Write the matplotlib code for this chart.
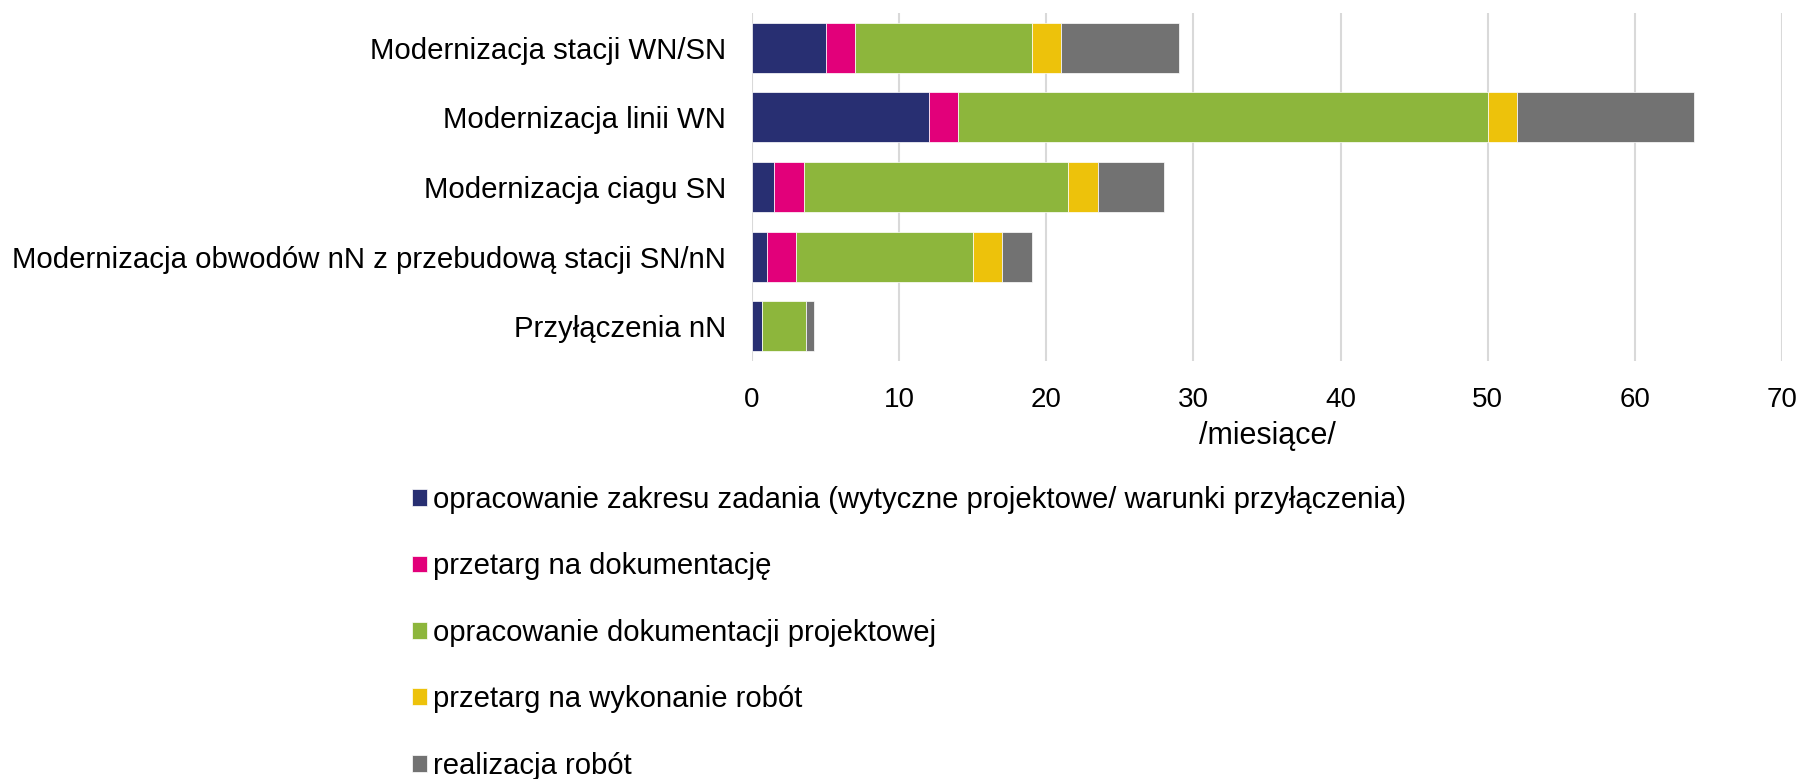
import matplotlib
matplotlib.use("Agg")
import matplotlib.pyplot as plt
import numpy as np

plt.rcParams['font.family'] = ['Liberation Sans', 'DejaVu Sans']

categories = [
    "Modernizacja stacji WN/SN",
    "Modernizacja linii WN",
    "Modernizacja ciagu SN",
    "Modernizacja obwodów nN z przebudową stacji SN/nN",
    "Przyłączenia nN",
]
series_names = [
    "opracowanie zakresu zadania (wytyczne projektowe/ warunki przyłączenia)",
    "przetarg na dokumentację",
    "opracowanie dokumentacji projektowej",
    "przetarg na wykonanie robót",
    "realizacja robót",
]
zakres = [5, 12, 1.5, 1, 0.7]
przetarg_dok = [2, 2, 2, 2, 0]
dokumentacja = [12, 36, 18, 12, 3]
przetarg_rob = [2, 2, 2, 2, 0]
realizacja = [8, 12, 4.5, 2, 0.5]
series = [zakres, przetarg_dok, dokumentacja, przetarg_rob, realizacja]
colors = ["#282F72", "#E2007A", "#8DB63C", "#EDC20B", "#727272"]
xticks = [0, 10, 20, 30, 40, 50, 60, 70]
xlabel = "/miesiące/"

fig = plt.figure(figsize=(17.98, 7.79), dpi=100)
ax = fig.add_axes([752/1798, 1-361/779, (1782-752)/1798, (361-13)/779])

y = np.arange(len(categories))
left = np.zeros(len(categories))
handles = []
for vals, name, c in zip(series, series_names, colors):
    vals = np.array(vals, dtype=float)
    h = ax.barh(y, vals, left=left, height=0.717, color=c, edgecolor='white',
                linewidth=0.5, label=name, zorder=3)
    handles.append(h)
    left += vals

ax.set_ylim(len(categories)-0.5, -0.5)
ax.set_xlim(0, 70)
ax.set_xticks(xticks)
ax.set_yticks(y)
ax.set_yticklabels(categories)
ax.tick_params(axis='both', length=0, colors='black')
ax.tick_params(axis='x', labelsize=20, pad=18.5)
ax.tick_params(axis='y', labelsize=21.2, pad=18.5)
for s in ax.spines.values():
    s.set_visible(False)
ax.grid(axis='x', color='#D9D9D9', linewidth=1.5, zorder=0)
ax.set_axisbelow(True)
ax.set_xlabel(xlabel, fontsize=22, labelpad=6)

leg = fig.legend(handles=handles, labels=series_names, loc='upper left',
                 bbox_to_anchor=(412/1798, 1-486/779), frameon=False,
                 fontsize=21.1, handlelength=0.51, handleheight=0.51,
                 handletextpad=0.21, labelspacing=1.31, borderpad=0,
                 borderaxespad=0)

fig.savefig("out.png", dpi=100, facecolor='white')
